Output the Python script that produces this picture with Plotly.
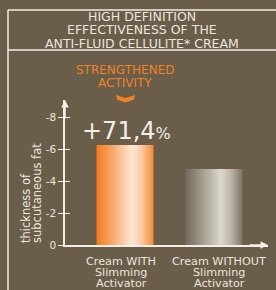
import plotly.graph_objects as go

# ---- data ----
categories = [["Cream WITH", "Slimming", "Activator"], ["Cream WITHOUT", "Slimming", "Activator"]]
values = [6.25, 4.75]
tick_vals = [0, 2, 4, 6, 8]
tick_text = ["0", "-2", "-4", "-6", "-8"]
title_lines = ["HIGH DEFINITION", "EFFECTIVENESS OF THE", "ANTI-FLUID CELLULITE* CREAM"]
highlight_lines = ["STRENGTHENED", "ACTIVITY"]
y_title_lines = ["thickness of", "subcutaneous fat"]
gain_label = "+71,4"

BG = "#6a5d4a"
WHITE = "#f2efe8"
TXT = "#ebe6dc"
ORANGE = "#f08226"
FONT = "DejaVu Sans"

W, H = 276, 290
L, R, T, B = 65, 8, 100, 45
PW, PH = W - L - R, H - T - B


def px(x):
    return (x - L) / PW


def py(y):
    return (H - B - y) / PH


bar_w = 0.32
scales = [
    [[0, "#f27a1f"], [0.25, "#f7a363"], [0.62, "#fee6d3"], [0.8, "#fbc79f"], [1, "#f38a32"]],
    [[0, "#74695a"], [0.3, "#a59d8d"], [0.62, "#dcd8ce"], [0.8, "#bcb5a7"], [1, "#7c7262"]],
]

fig = go.Figure()
for i, v in enumerate(values):
    fig.add_trace(go.Scatter(
        x=[i - bar_w, i - bar_w, i + bar_w, i + bar_w, i - bar_w],
        y=[0, v, v, 0, 0],
        mode="lines", line=dict(width=0), fill="toself",
        fillgradient=dict(type="horizontal", colorscale=scales[i]),
        hoverinfo="skip", showlegend=False,
    ))

x0 = -60 / 89
fig.update_layout(
    width=W, height=H, margin=dict(l=L, r=R, t=T, b=B),
    paper_bgcolor=BG, plot_bgcolor=BG, showlegend=False,
    xaxis=dict(range=[x0, x0 + PW / 89], showticklabels=False, automargin=False,
               showgrid=False, zeroline=False, showline=True, linecolor=WHITE, linewidth=1.5,
               ticks=""),
    yaxis=dict(range=[0, PH / 16], tickvals=tick_vals, ticktext=tick_text, automargin=False,
               showgrid=False, zeroline=False, showline=True, linecolor=WHITE, linewidth=1.5,
               ticks="outside", ticklen=5, tickwidth=1.2, tickcolor=WHITE,
               tickfont=dict(family=FONT, size=10.5, color=TXT)),
    yaxis2=dict(range=[0, PH / 16], overlaying="y", tickvals=tick_vals, showticklabels=False,
                automargin=False, showgrid=False, zeroline=False, ticks="inside", ticklen=5,
                tickwidth=1.2, tickcolor=WHITE),
)
fig.add_trace(go.Scatter(x=[0], y=[0], yaxis="y2", mode="markers", marker=dict(opacity=0),
                         hoverinfo="skip", showlegend=False))

shapes = []
line = dict(color=WHITE, width=1.5)
shapes.append(dict(type="line", xref="paper", yref="paper", x0=px(8), x1=px(W + 5), y0=py(10), y1=py(10), line=line))
shapes.append(dict(type="line", xref="paper", yref="paper", x0=px(8), x1=px(W + 5), y0=py(50), y1=py(50), line=line))
shapes.append(dict(type="line", xref="paper", yref="paper", x0=px(8), x1=px(8), y0=py(10), y1=py(H + 5), line=line))
# chevron
shapes.append(dict(type="path", xref="paper", yref="paper",
                   path=f"M {px(116)},{py(95)} L {px(125.5)},{py(98)} L {px(135)},{py(95)} L {px(134)},{py(99.5)} L {px(125.5)},{py(102.5)} L {px(117)},{py(99.5)} Z",
                   fillcolor=ORANGE, line=dict(width=0)))
fig.update_layout(shapes=shapes)

ann = []
for k, t in enumerate(title_lines):
    ann.append(dict(x=px(142), y=py(16.5 + k * 13.5), xref="paper", yref="paper", text=t, showarrow=False,
                    font=dict(family=FONT, size=12.5, color=TXT), xanchor="center", yanchor="middle"))
for k, t in enumerate(highlight_lines):
    ann.append(dict(x=px(125), y=py(70.5 + k * 12), xref="paper", yref="paper", text=t, showarrow=False,
                    font=dict(family=FONT, size=12, color=ORANGE), xanchor="center", yanchor="middle"))
ann.append(dict(x=px(126), y=py(131), xref="paper", yref="paper",
                text=gain_label + "<span style='font-size:16px'>%</span>", showarrow=False,
                font=dict(family=FONT, size=24, color=WHITE), xanchor="center", yanchor="middle"))
for k, t in enumerate(y_title_lines):
    ann.append(dict(x=px(26 + k * 11), y=py(245), xref="paper", yref="paper",
                    text=t, textangle=-90, showarrow=False,
                    font=dict(family=FONT, size=11.5, color=TXT), xanchor="center", yanchor="bottom"))
label_dx = [-4 / 89, 5 / 89]
for i, lines in enumerate(categories):
    for k, t in enumerate(lines):
        ann.append(dict(x=i + label_dx[i], y=py(261 + k * 11.3), xref="x", yref="paper", text=t,
                        showarrow=False, font=dict(family=FONT, size=11.2, color=TXT),
                        xanchor="center", yanchor="middle"))
# axis arrows
ann.append(dict(x=0, y=1, xref="paper", yref="paper", ax=0, ay=20, showarrow=True, arrowhead=2,
                arrowsize=1, arrowwidth=1.5, arrowcolor=WHITE, text=""))
ann.append(dict(x=1, y=0, xref="paper", yref="paper", ax=-20, ay=0, showarrow=True, arrowhead=2,
                arrowsize=1, arrowwidth=1.5, arrowcolor=WHITE, text=""))
fig.update_layout(annotations=ann)

fig.write_html("out.html", config={"displayModeBar": False},
               post_script="document.body.style.margin='0';document.body.style.overflow='hidden';")
